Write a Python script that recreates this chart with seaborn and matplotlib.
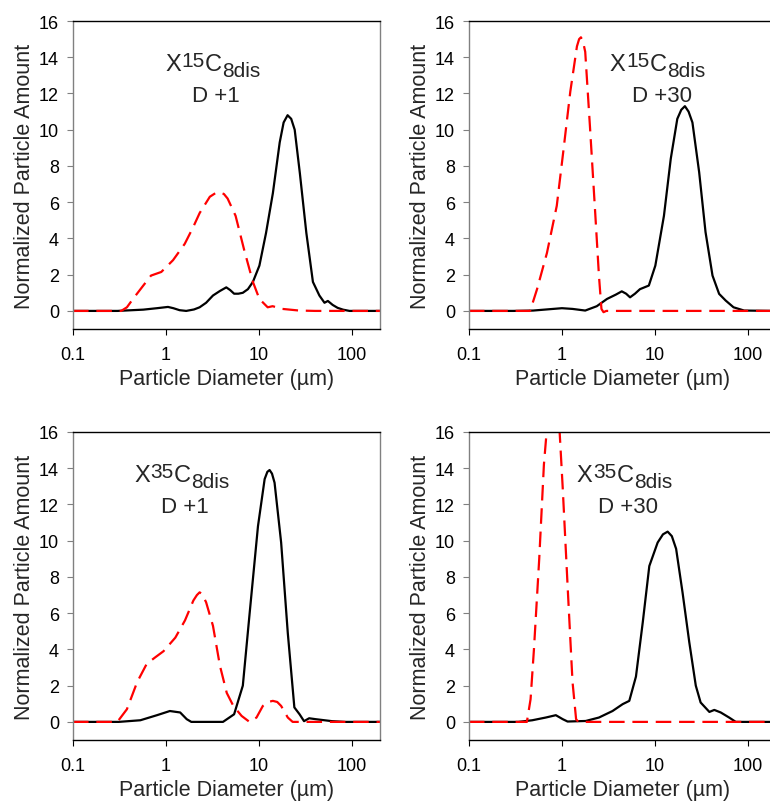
import numpy as np
import pandas as pd
import matplotlib
matplotlib.use("Agg")
import matplotlib.pyplot as plt
import seaborn as sns

sns.set_style("white")
plt.rcParams['font.family'] = ['Liberation Sans', 'DejaVu Sans']

# ---- data (diameter in um, normalized amount) ----
# X15C8dis D+1
p1_black_x = [0.1, 0.3, 0.57, 0.8, 1.05, 1.2, 1.4, 1.65, 2.0, 2.3, 2.7, 3.2, 3.8, 4.45, 4.9, 5.4,
              6.0, 6.7, 7.6, 8.6, 10.1, 11.9, 14.1, 16.7, 18.4, 20.3, 22.2, 24.2, 27.5, 32.3,
              38, 44.6, 50.6, 55, 62, 70, 80, 94, 200]
p1_black_y = [0, 0, 0.07, 0.15, 0.22, 0.15, 0.04, 0, 0.08, 0.2, 0.45, 0.85, 1.1, 1.3, 1.15, 0.95,
              0.95, 1.0, 1.2, 1.6, 2.5, 4.3, 6.5, 9.3, 10.4, 10.8, 10.6, 10.0, 7.6, 4.3,
              1.6, 0.85, 0.45, 0.55, 0.33, 0.17, 0.07, 0, 0]
p1_red_x = [0.1, 0.33, 0.38, 0.44, 0.57, 0.69, 0.89, 1.19, 1.59, 1.95, 2.3, 2.96, 3.4, 3.76,
            4.2, 4.6, 5.6, 6.9, 8.6, 10.1, 12.4, 14, 17.9, 27, 40, 200]
p1_red_y = [0, 0, 0.2, 0.65, 1.4, 1.95, 2.15, 2.8, 3.7, 4.6, 5.4, 6.3, 6.5, 6.55,
            6.45, 6.2, 5.25, 3.4, 1.6, 0.66, 0.2, 0.26, 0.11, 0.02, 0, 0]

# X15C8dis D+30
p2_black_x = [0.1, 0.3, 0.49, 1.0, 1.3, 1.78, 2.37, 3.05, 3.8, 4.4, 4.9, 5.4, 6.1, 6.9, 8.6,
              10.1, 12.5, 14.8, 17.4, 19.2, 21, 23, 25.3, 29.9, 35, 41.6, 49, 57.7, 70, 91, 200]
p2_black_y = [0, 0, 0.02, 0.15, 0.11, 0.02, 0.26, 0.66, 0.9, 1.08, 0.95, 0.75, 0.95, 1.2, 1.4,
              2.5, 5.25, 8.4, 10.6, 11.1, 11.3, 11.0, 10.4, 7.65, 4.35, 1.95, 0.94, 0.57, 0.2,
              0.02, 0]
p2_red_x = [0.1, 0.455, 0.54, 0.69, 0.88, 1.04, 1.23, 1.45, 1.53, 1.6, 1.68, 1.78, 2.0, 2.28,
            2.5, 2.66, 2.8, 3.0, 200]
p2_red_y = [0, 0, 1.2, 3.2, 5.8, 8.9, 12.1, 14.6, 15.0, 15.1, 14.9, 14.3, 10.2, 5.4,
            1.95, 0.11, -0.07, 0, 0]

# X35C8dis D+1
p3_black_x = [0.1, 0.31, 0.53, 0.8, 1.1, 1.42, 1.67, 1.87, 4.1, 5.4, 6.7, 7.9, 9.75, 11.5,
              12.3, 13.0, 13.8, 14.7, 17.3, 20.4, 24, 27.3, 30.5, 34.6, 40.6, 61, 84, 200]
p3_black_y = [0, 0, 0.09, 0.37, 0.6, 0.52, 0.15, 0, 0, 0.42, 2.0, 5.9, 10.8, 13.4,
              13.8, 13.9, 13.7, 13.2, 9.9, 4.9, 0.8, 0.42, 0.04, 0.2, 0.15, 0.04, 0, 0]
p3_red_x = [0.1, 0.3, 0.38, 0.49, 0.62, 0.76, 0.94, 1.26, 1.6, 1.97, 2.15, 2.3, 2.45, 2.7,
            3.2, 3.8, 4.5, 5.3, 6.5, 7.9, 9.4, 11.0, 12.5, 14.1, 15.7, 17.3, 20.4, 23, 200]
p3_red_y = [0, 0, 0.7, 2.2, 3.2, 3.55, 3.9, 4.65, 5.6, 6.7, 7.0, 7.15, 7.05, 6.6,
            5.3, 3.1, 1.6, 0.88, 0.33, 0, 0.24, 0.88, 1.1, 1.16, 1.1, 0.88, 0.24, 0, 0]

# X35C8dis D+30
p4_black_x = [0.1, 0.34, 0.48, 0.67, 0.86, 1.02, 1.15, 1.8, 2.5, 3.5, 4.5, 5.3, 6.25, 7.4,
              8.7, 10.7, 12.2, 13.7, 15.2, 16.9, 19.8, 23.4, 27.5, 31, 38.5, 43.5, 51, 62.8,
              74, 200]
p4_black_y = [0, 0, 0.09, 0.24, 0.37, 0.15, 0.02, 0.05, 0.24, 0.6, 0.98, 1.16, 2.5, 5.5,
              8.6, 9.9, 10.35, 10.5, 10.25, 9.55, 7.15, 4.4, 2.0, 1.07, 0.55, 0.66, 0.52, 0.24,
              0, 0]
p4_red_x = [0.1, 0.42, 0.46, 0.50, 0.57, 0.64, 0.70, 0.80, 0.94, 1.02, 1.16, 1.3, 1.42, 1.5, 200]
p4_red_y = [0, 0, 1.25, 4.0, 9.0, 14.2, 16.6, 17.4, 16.2, 12.9, 7.15, 2.2, 0.15, 0, 0]

sample_supers = ['15', '15', '35', '35']
day_labels = ['D +1', 'D +30', 'D +1', 'D +30']
label_left = [0.975, 3.28, 0.453, 1.45]
day_x = [3.45, 12.0, 1.6, 5.1]

panels = [(p1_black_x, p1_black_y, p1_red_x, p1_red_y),
          (p2_black_x, p2_black_y, p2_red_x, p2_red_y),
          (p3_black_x, p3_black_y, p3_red_x, p3_red_y),
          (p4_black_x, p4_black_y, p4_red_x, p4_red_y)]

fig = plt.figure(figsize=(7.7, 8.03), dpi=100)
positions = [[0.0948, 0.589, 0.3987, 0.3836],
             [0.609, 0.589, 0.3987, 0.3836],
             [0.0948, 0.0772, 0.3987, 0.3836],
             [0.609, 0.0772, 0.3987, 0.3836]]

for i, (bx, by, rx, ry) in enumerate(panels):
    ax = fig.add_axes(positions[i])
    black = pd.DataFrame({'d': bx, 'v': by})
    red = pd.DataFrame({'d': rx, 'v': ry})
    sns.lineplot(data=black, x='d', y='v', ax=ax, color='black', lw=1.6, sort=False)
    sns.lineplot(data=red, x='d', y='v', ax=ax, color='#ff0000', lw=1.6, sort=False,
                 dashes=False, linestyle=(0, (7, 3.5)))
    ax.set_xscale('log')
    ax.set_xlim(0.1, 200)
    ax.set_ylim(-1, 16)
    ax.set_xticks([0.1, 1, 10, 100])
    ax.set_xticklabels(['0.1', '1', '10', '100'])
    ax.xaxis.set_minor_locator(matplotlib.ticker.NullLocator())
    ax.set_yticks(range(0, 17, 2))
    ax.set_xlabel('Particle Diameter (µm)', fontsize=15.5, labelpad=4)
    ax.set_ylabel('Normalized Particle Amount', fontsize=15.5, labelpad=3)
    ax.tick_params(axis='both', labelsize=13, direction='out', length=4, width=0.8,
                   bottom=True, left=True, colors='black')
    ax.tick_params(axis='y', color='#808080', pad=6)
    ax.tick_params(axis='x', pad=8)
    for side in ['left', 'right']:
        ax.spines[side].set_color('#808080')
        ax.spines[side].set_linewidth(1.0)
    for side in ['top', 'bottom']:
        ax.spines[side].set_color('black')
        ax.spines[side].set_linewidth(1.0)

    # sample name built from pieces: X, superscript, C, subscript
    t0 = ax.text(label_left[i], 13.3, 'X', fontsize=17, ha='left', va='baseline')
    t1 = ax.annotate(sample_supers[i], xy=(1, 0), xycoords=t0, xytext=(0.3, 3.6),
                     textcoords='offset points', fontsize=15, ha='left', va='bottom')
    t2 = ax.annotate('C', xy=(1, 0), xycoords=(t1, t0), xytext=(0.3, 0),
                     textcoords='offset points', fontsize=17, ha='left', va='bottom')
    ax.annotate('8dis', xy=(1, 0), xycoords=(t2, t0), xytext=(0.3, -3.8),
                textcoords='offset points', fontsize=15, ha='left', va='bottom')
    ax.text(day_x[i], 11.6, day_labels[i], fontsize=16, ha='center', va='baseline')

fig.savefig('out.png', dpi=100)
